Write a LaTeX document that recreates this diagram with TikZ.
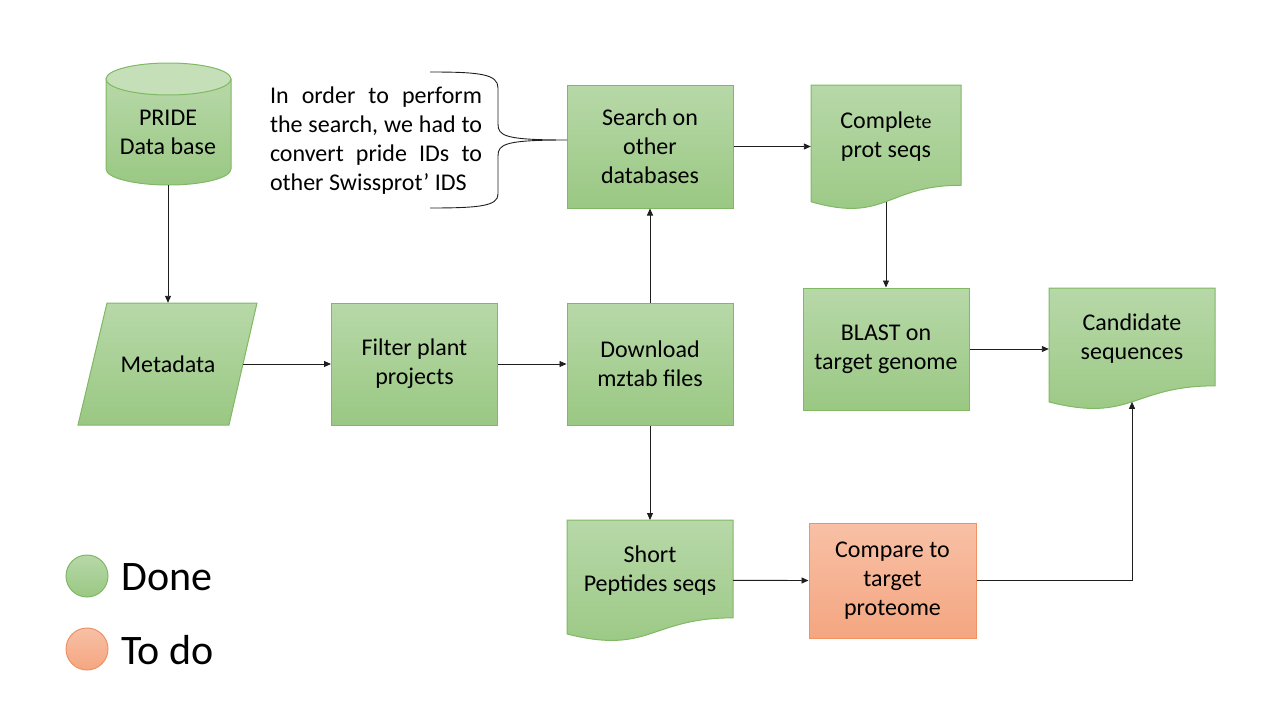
\documentclass[tikz,border=0pt]{standalone}
\usepackage{fontspec}
\setmainfont{Carlito}
\usepackage{tikz}
\usetikzlibrary{arrows.meta,positioning,shapes}
\usepackage{xcolor}
\definecolor{dfgreentop}{RGB}{183,216,168}
\definecolor{dfgreenbot}{RGB}{154,200,131}
\definecolor{dfgreenline}{RGB}{128,184,100}
\definecolor{dforangetop}{RGB}{248,192,166}
\definecolor{dforangebot}{RGB}{244,166,128}
\definecolor{dforangeline}{RGB}{240,146,98}
\definecolor{dfline}{RGB}{30,30,30}
\tikzstyle{arrow} = [->,>={Triangle[length=7pt,width=6pt]},line width=0.9pt,color=dfline]
\tikzstyle{greenfill} = [top color=dfgreentop, bottom color=dfgreenbot, draw=dfgreenline, line width=1pt]
\tikzstyle{orangefill} = [top color=dforangetop, bottom color=dforangebot, draw=dforangeline, line width=1pt]
\tikzstyle{label} = [align=center, font=\fontsize{24}{29}\selectfont, inner sep=0pt]
\tikzstyle{process} = [rectangle, label, minimum width=166pt, minimum height=122pt, execute at begin node={\rule{0pt}{22.5pt}}]

% document shape: name, left, top, width, height, fill style, text
\newcommand{\docshape}[7]{%
  \shade[#6] (#2,#3) -- ({#2+#4},#3) -- ({#2+#4},{#3+0.802*#5})
    .. controls ({#2+0.5*#4},{#3+0.802*#5}) and ({#2+0.5*#4},{#3+1.1075*#5}) .. (#2,{#3+0.934*#5}) -- cycle;
  \coordinate (#1-t) at ({#2+0.5*#4},#3);
  \coordinate (#1-b) at ({#2+0.5*#4},{#3+0.933*#5});
  \node[label, minimum width=#4pt] (#1) at ({#2+0.5*#4},{#3+0.4*#5+1.5}) {#7};
}

\begin{document}
\begin{tikzpicture}[x=1pt, y=-1pt]
\useasboundingbox (0,0) rectangle (1280,720);

% PRIDE data base
\shade[greenfill] (106,79) -- (106,169) arc[start angle=180, end angle=0, x radius=62.5, y radius=16] -- (231,79) -- cycle;
\fill[dfgreentop!80!white, draw=dfgreenline, line width=1pt] (168.5,79) ellipse [x radius=62.5, y radius=16];
\node[label, minimum width=125pt, minimum height=106pt] (pride) at (168,132) {PRIDE\\Data base};

% Metadata
\shade[greenfill] (107,303) -- (257,303) -- (229,425) -- (78,425) -- cycle;
\node[label, minimum width=150pt, minimum height=122pt] (meta) at (168,364) {\raisebox{-1.5pt}{Metadata}};

% Processing steps
\node[process, greenfill] (filter) at (414.5,364) {Filter plant\\projects};
\node[process, greenfill] (download) at (650,364) {Download\\mztab files};
\node[process, greenfill, minimum height=123pt] (search) at (650,146.5) {Search on\\other\\databases};
\node[process, greenfill] (blast) at (886,349) {BLAST on\\target genome};
\node[process, orangefill, minimum width=167pt, minimum height=115pt] (compare) at (892.5,580.5) {Compare to\\target\\proteome};

% Documents
\docshape{cps}{811}{85}{150}{125}{greenfill}{Comple{\fontsize{20}{29}\selectfont te}\\prot seqs}
\docshape{cand}{1049}{288}{166}{122}{greenfill}{Candidate\\sequences}
\docshape{short}{567}{520}{166}{122}{greenfill}{Short\\Peptides seqs}

% Note with brace
\node[font=\fontsize{24}{29}\selectfont, text width=212pt, align=justify, inner sep=0pt] (note) at (376,140.5)
  {In order to perform\linebreak the search, we had to\linebreak convert pride IDs to\linebreak other Swissprot’ IDS};
\draw[line width=0.9pt, color=dfline] (430,72) .. controls (480,72) and (498,74) .. (498,88) -- (498,124)
  .. controls (498,136) and (505,140) .. (567,140)
  .. controls (505,140) and (498,144) .. (498,156) -- (498,194)
  .. controls (498,206) and (480,208) .. (430,208);

% Flows
\draw[arrow] (pride.south) -- (meta.north);
\draw[arrow] (meta.east) -- (filter.west);
\draw[arrow] (filter.east) -- (download.west);
\draw[arrow] (download.north) -- (search.south);
\draw[arrow] (search.east) -- (search.east -| cps.west);
\draw[arrow] (cps-b) -- (blast.north);
\draw[arrow] (blast.east) -- (blast.east -| cand.west);
\draw[arrow] (download.south) -- (short-t);
\draw[arrow] ([yshift=-10pt]short.east) -- (compare.west);
\draw[arrow] (compare.east) -| (cand-b);

% Legend
\node[circle, greenfill, minimum size=42pt, inner sep=0pt] (done-dot) at (87,576) {};
\node[anchor=west, font=\fontsize{42}{46}\selectfont, inner sep=0pt] (done) at (121,577) {Done};
\node[circle, orangefill, minimum size=42pt, inner sep=0pt] (todo-dot) at (87,649) {};
\node[anchor=west, font=\fontsize{42}{46}\selectfont, inner sep=0pt] (todo) at (121,650) {To do};
\end{tikzpicture}
\end{document}
